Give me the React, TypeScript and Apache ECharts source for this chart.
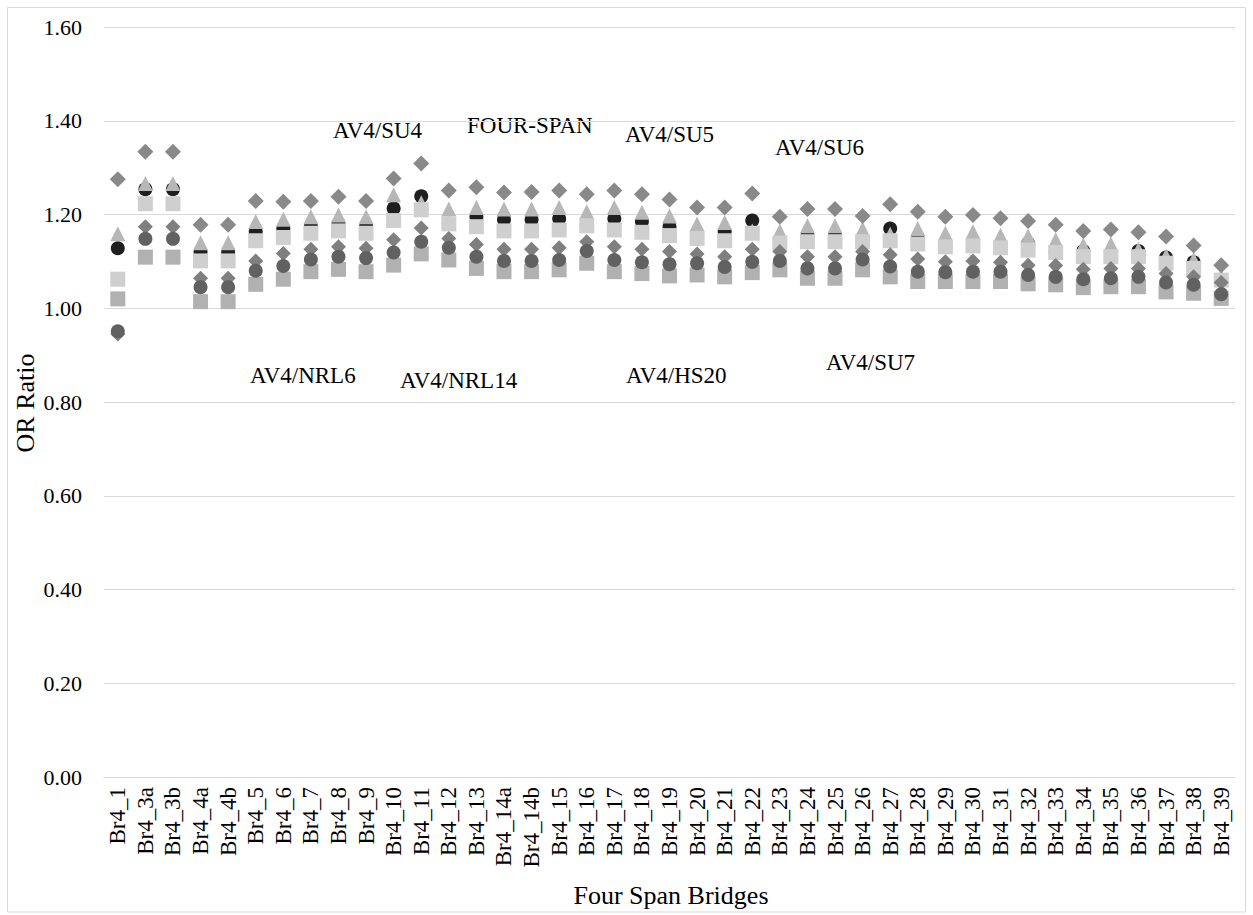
import React, { useEffect, useRef } from "react";
import * as echarts from "echarts";

const categories = [
  "Br4_1", "Br4_3a", "Br4_3b", "Br4_4a", "Br4_4b", "Br4_5", "Br4_6", "Br4_7", "Br4_8", "Br4_9",
  "Br4_10", "Br4_11", "Br4_12", "Br4_13", "Br4_14a", "Br4_14b", "Br4_15", "Br4_16", "Br4_17", "Br4_18",
  "Br4_19", "Br4_20", "Br4_21", "Br4_22", "Br4_23", "Br4_24", "Br4_25", "Br4_26", "Br4_27", "Br4_28",
  "Br4_29", "Br4_30", "Br4_31", "Br4_32", "Br4_33", "Br4_34", "Br4_35", "Br4_36", "Br4_37", "Br4_38", "Br4_39",
];

const blackCircle = [
  1.128, 1.254, 1.254, 1.12, 1.12, 1.163, 1.17, 1.175, 1.18, 1.175,
  1.213, 1.239, 1.18, 1.195, 1.189, 1.189, 1.191, 1.176, 1.191, 1.185,
  1.174, 1.149, 1.163, 1.187, 1.14, 1.155, 1.155, 1.142, 1.17, 1.148,
  1.131, 1.133, 1.129, 1.138, 1.119, 1.122, 1.11, 1.122, 1.108, 1.098, 1.06,
];
const triangle = [
  1.159, 1.266, 1.266, 1.14, 1.14, 1.185, 1.19, 1.195, 1.199, 1.195,
  1.242, 1.225, 1.212, 1.215, 1.212, 1.212, 1.215, 1.206, 1.215, 1.205,
  1.197, 1.18, 1.183, 1.165, 1.165, 1.176, 1.176, 1.169, 1.158, 1.17,
  1.16, 1.163, 1.156, 1.154, 1.146, 1.135, 1.137, 1.126, 1.112, 1.104, 1.068,
];
const lightSquare = [
  1.062, 1.223, 1.223, 1.101, 1.101, 1.144, 1.151, 1.16, 1.165, 1.16,
  1.187, 1.21, 1.18, 1.174, 1.165, 1.165, 1.167, 1.176, 1.167, 1.162,
  1.155, 1.149, 1.144, 1.16, 1.139, 1.142, 1.142, 1.142, 1.144, 1.137,
  1.131, 1.133, 1.129, 1.124, 1.119, 1.11, 1.11, 1.11, 1.096, 1.085, 1.06,
];
const mediumSquare = [
  1.02, 1.109, 1.109, 1.014, 1.014, 1.051, 1.062, 1.078, 1.083, 1.078,
  1.092, 1.116, 1.103, 1.085, 1.078, 1.078, 1.082, 1.096, 1.078, 1.074,
  1.069, 1.071, 1.067, 1.076, 1.082, 1.064, 1.064, 1.082, 1.067, 1.057,
  1.057, 1.057, 1.057, 1.052, 1.05, 1.044, 1.046, 1.046, 1.035, 1.032, 1.021,
];
const lowerDiamond = [
  0.945, 1.174, 1.174, 1.064, 1.064, 1.101, 1.117, 1.126, 1.131, 1.128,
  1.146, 1.171, 1.149, 1.136, 1.126, 1.126, 1.129, 1.142, 1.131, 1.126,
  1.121, 1.116, 1.11, 1.126, 1.121, 1.11, 1.11, 1.121, 1.114, 1.105,
  1.099, 1.101, 1.098, 1.092, 1.091, 1.083, 1.085, 1.085, 1.074, 1.067, 1.055,
];
const darkCircle = [
  0.951, 1.148, 1.148, 1.045, 1.045, 1.08, 1.09, 1.104, 1.11, 1.107,
  1.119, 1.142, 1.129, 1.11, 1.101, 1.101, 1.103, 1.122, 1.103, 1.098,
  1.094, 1.096, 1.088, 1.099, 1.101, 1.085, 1.085, 1.104, 1.089, 1.078,
  1.077, 1.078, 1.078, 1.071, 1.067, 1.062, 1.064, 1.067, 1.055, 1.05, 1.03,
];
const upperDiamond = [
  1.275, 1.334, 1.334, 1.178, 1.178, 1.229, 1.227, 1.229, 1.238, 1.229,
  1.277, 1.309, 1.251, 1.258, 1.247, 1.248, 1.251, 1.243, 1.251, 1.243,
  1.232, 1.215, 1.215, 1.245, 1.195, 1.212, 1.212, 1.197, 1.222, 1.206,
  1.195, 1.199, 1.192, 1.186, 1.178, 1.165, 1.168, 1.162, 1.153, 1.134, 1.092,
];

const yTicks = [0, 0.2, 0.4, 0.6, 0.8, 1.0, 1.2, 1.4, 1.6];
const annotationTexts = ["AV4/SU4", "FOUR-SPAN", "AV4/SU5", "AV4/SU6", "AV4/NRL6", "AV4/NRL14", "AV4/HS20", "AV4/SU7"];
const xTitle = "Four Span Bridges";
const yTitle = "OR Ratio";

// layout (pixel positions of the free-floating texts)
const annotationLayout = [
  [333, 130], [467, 125], [625, 134], [775, 147],
  [250, 375], [400, 380], [626, 375], [826, 362],
];

const FAMILY = "Liberation Serif";

export default function App() {
  const ref = useRef<HTMLDivElement>(null);
  useEffect(() => {
    document.body.style.margin = "0";
    const chart = echarts.init(ref.current!, undefined, { renderer: "svg" });
    const mk = (name: string, data: number[], symbol: string, size: number, color: string) => ({
      name,
      type: "scatter",
      data,
      symbol,
      symbolSize: size,
      itemStyle: { color, opacity: 1 },
      emphasis: { disabled: true },
    });
    chart.setOption({
      animation: false,
      backgroundColor: "#ffffff",
      textStyle: { fontFamily: FAMILY },
      grid: { left: 104, right: 18, top: 27, bottom: 138, containLabel: false },
      xAxis: {
        type: "category",
        data: categories,
        axisLine: { show: true, lineStyle: { color: "#d9d9d9", width: 1 } },
        axisTick: { show: false },
        axisLabel: {
          rotate: 90,
          interval: 0,
          margin: 10,
          padding: [8, 0, 0, 0],
          fontFamily: FAMILY,
          fontSize: 23,
          color: "#000",
        },
        splitLine: { show: false },
      },
      yAxis: {
        type: "value",
        min: yTicks[0],
        max: yTicks[yTicks.length - 1],
        interval: 0.2,
        axisLine: { show: false },
        axisTick: { show: false },
        axisLabel: {
          margin: 22,
          fontFamily: FAMILY,
          fontSize: 22,
          color: "#000",
          formatter: (v: number) => v.toFixed(2),
        },
        splitLine: { lineStyle: { color: "#d9d9d9", width: 1 } },
      },
      series: [
        mk("AV4/SU4", blackCircle, "circle", 14, "#1f1f1f"),
        mk("AV4/SU5", triangle, "triangle", 15, "#b7b7b7"),
        mk("AV4/SU6", lightSquare, "rect", 15, "#cfcfcf"),
        mk("AV4/SU7", mediumSquare, "rect", 15, "#b1b1b1"),
        mk("AV4/NRL6", lowerDiamond, "diamond", 15, "#7f7f7f"),
        mk("AV4/NRL14", darkCircle, "circle", 14, "#616161"),
        mk("AV4/HS20", upperDiamond, "diamond", 16, "#898989"),
      ],
      graphic: [
        {
          type: "rect",
          shape: { x: 7.5, y: 7.5, width: 1238, height: 904.5 },
          style: { fill: "none", stroke: "#d9d9d9", lineWidth: 1 },
          silent: true,
        },
        ...annotationTexts.map((t, i) => ({
          type: "text",
          x: annotationLayout[i][0],
          y: annotationLayout[i][1],
          style: { text: t, fontFamily: FAMILY, fontSize: 23, fill: "#000", align: "left", verticalAlign: "middle" },
          silent: true,
        })),
        {
          type: "text",
          x: 671,
          y: 895,
          style: { text: xTitle, fontFamily: FAMILY, fontSize: 26, fill: "#000", align: "center", verticalAlign: "middle" },
          silent: true,
        },
        {
          type: "text",
          x: 25,
          y: 403,
          rotation: Math.PI / 2,
          style: { text: yTitle, fontFamily: FAMILY, fontSize: 26, fill: "#000", align: "center", verticalAlign: "middle" },
          silent: true,
        },
      ],
    });
    return () => chart.dispose();
  }, []);
  return <div ref={ref} style={{ width: 1253, height: 915 }} />;
}
